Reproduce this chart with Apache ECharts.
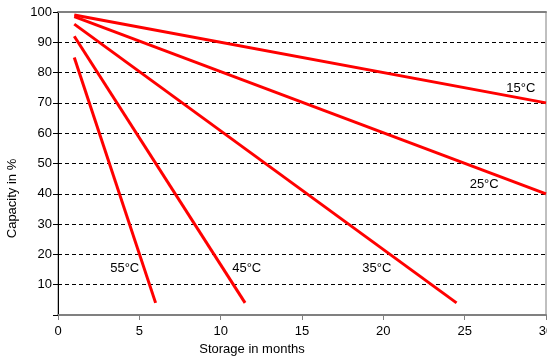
<!DOCTYPE html>
<html>
<head>
<meta charset="utf-8">
<script src="https://cdn.jsdelivr.net/npm/echarts@6/dist/echarts.min.js"></script>
<style>html,body{margin:0;padding:0;background:#fff}#c{width:547px;height:357px}</style>
</head>
<body>
<div id="c"></div>
<script>
// Data
const seriesNames = ['15°C', '25°C', '35°C', '45°C', '55°C'];
const months15 = [1, 30];   const capacity15 = [99, 70];
const months25 = [1, 30];   const capacity25 = [98.5, 40];
const months35 = [1, 24.5]; const capacity35 = [96, 4];
const months45 = [1, 11.5]; const capacity45 = [92, 4];
const months55 = [1, 6];    const capacity55 = [85, 4];
const xTicks = [0, 5, 10, 15, 20, 25, 30];
const yTicks = [10, 20, 30, 40, 50, 60, 70, 80, 90, 100];

const monthsAll = [months15, months25, months35, months45, months55];
const capAll = [capacity15, capacity25, capacity35, capacity45, capacity55];
// label anchor positions (data coords), layout only
const labelAnchors = [[28.45, 74.9], [26.2, 43.2], [19.6, 15.5], [11.6, 15.5], [4.1, 15.5]];

const font = "'Liberation Sans', Arial, sans-serif";
const fs = 13;
const xMin = xTicks[0], xMax = xTicks[xTicks.length - 1];
const chart = echarts.init(document.getElementById('c'));
chart.setOption({
  animation: false,
  backgroundColor: '#fff',
  grid: { left: 58, right: 1, top: 12, bottom: 42, show: true, borderColor: '#808080', borderWidth: 1,
    containLabel: false, outerBoundsMode: 'none' },
  xAxis: [{
    type: 'value', min: xMin, max: xMax, interval: 5,
    name: 'Storage in months', nameLocation: 'middle', nameGap: 26,
    nameTextStyle: { fontFamily: font, fontSize: fs, color: '#000', padding: [0, 100, 0, 0] },
    axisLine: { lineStyle: { color: '#808080', width: 2 } },
    axisTick: { show: true, length: 5, lineStyle: { color: '#808080' } },
    axisLabel: { fontFamily: font, fontSize: fs, color: '#000', margin: 10, hideOverlap: false },
    splitLine: { show: false }
  }, {
    type: 'value', position: 'top', min: xMin, max: xMax, interval: 5,
    axisLine: { show: true, lineStyle: { color: '#808080', width: 2 } },
    axisTick: { show: false }, axisLabel: { show: false }, splitLine: { show: false }
  }],
  yAxis: {
    type: 'value', min: 0, max: yTicks[yTicks.length - 1], interval: 10,
    name: 'Capacity in %', nameLocation: 'middle', nameGap: 38, nameRotate: 90,
    nameTextStyle: { fontFamily: font, fontSize: fs, color: '#000', padding: [0, 70, 0, 0] },
    axisLine: { show: true, lineStyle: { color: '#000', width: 1 } },
    axisTick: { show: true, length: 5, lineStyle: { color: '#000' } },
    axisLabel: { fontFamily: font, fontSize: fs, color: '#000', margin: 6,
      formatter: v => (v === 0 ? '' : String(v)) },
    splitLine: { show: true, showMinLine: false, showMaxLine: false,
      lineStyle: { color: '#000', type: [4, 3], width: 1 } }
  },
  series: seriesNames.map((n, i) => ({
    name: n, type: 'line', symbol: 'none', xAxisIndex: 0,
    data: monthsAll[i].map((m, j) => [m, capAll[i][j]]),
    lineStyle: { color: '#ff0000', width: 3 },
    markPoint: {
      symbol: 'circle', symbolSize: 0, silent: true,
      data: [{ coord: labelAnchors[i], value: n }],
      label: { show: true, position: 'inside', formatter: n,
        fontFamily: font, fontSize: fs, color: '#000' }
    }
  }))
});
</script>
</body>
</html>
